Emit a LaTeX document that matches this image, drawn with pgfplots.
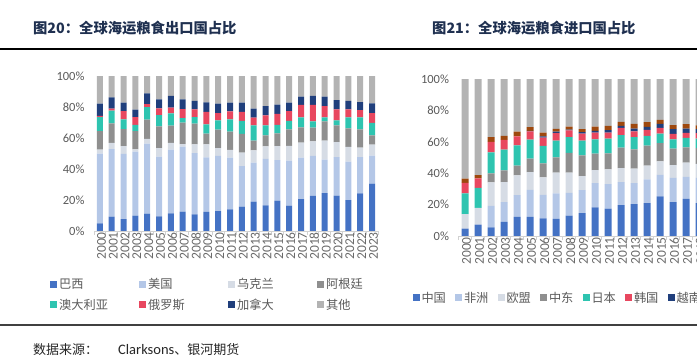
\documentclass[border=0pt]{standalone}
\usepackage{fontspec}
\usepackage{pgfplots}
\pgfplotsset{compat=1.18}
\usepackage{pgfplotstable}
\setmainfont{Carlito}
\newfontfamily\cjk{Noto Sans CJK SC}
\definecolor{cA}{HTML}{4472C4}
\definecolor{cB}{HTML}{B4C7E7}
\definecolor{cC}{HTML}{D6DCE5}
\definecolor{cD}{HTML}{8F8F8F}
\definecolor{cE}{HTML}{2EC4B0}
\definecolor{cF}{HTML}{E8475F}
\definecolor{cG}{HTML}{203F7C}
\definecolor{cH}{HTML}{9E480E}
\definecolor{cI}{HTML}{B3B3B3}
\definecolor{tgray}{HTML}{595959}
\definecolor{titlec}{HTML}{1F3050}

\pgfplotstableread{
year a b c d e f g o
2000 5.0 45.0 2.5 12.0 9.0 0.7 8.0 17.8
2001 9.2 43.7 3.9 12.7 8.1 1.4 7.2 13.8
2002 7.7 42.0 5.1 11.0 6.2 5.4 5.4 17.2
2003 9.9 41.3 1.5 11.8 3.9 5.1 4.8 21.7
2004 11.2 45.1 3.1 12.4 8.2 1.9 6.9 11.2
2005 9.5 38.5 5.5 14.0 7.3 4.3 5.9 15.0
2006 11.4 41.1 4.3 11.2 7.9 3.7 7.5 12.9
2007 12.5 41.9 1.7 13.8 3.0 5.8 6.3 15.0
2008 10.8 39.5 5.6 13.3 4.3 5.0 5.4 16.1
2009 12.3 35.2 8.4 6.9 6.0 8.0 6.2 17.0
2010 12.9 35.5 5.1 11.9 6.0 4.7 6.1 17.8
2011 14.0 33.3 5.0 11.8 7.9 5.2 5.6 17.2
2012 15.7 26.2 8.6 12.1 8.4 5.8 6.0 17.2
2013 18.9 25.2 7.9 6.3 9.9 4.9 5.8 21.1
2014 16.6 29.9 8.1 7.1 6.5 6.4 6.0 19.4
2015 19.6 26.2 9.0 8.2 5.4 7.1 6.0 18.5
2016 16.3 29.1 9.6 10.6 5.4 6.4 5.4 17.2
2017 20.6 26.7 9.7 9.9 6.4 8.0 5.4 13.3
2018 22.6 25.8 9.4 8.9 4.1 10.5 5.8 12.9
2019 24.5 21.5 12.3 12.5 2.5 7.3 6.1 13.3
2020 22.8 24.9 9.7 10.8 3.2 7.1 6.0 15.5
2021 20.0 24.7 9.5 12.0 7.1 5.2 5.4 16.1
2022 24.3 23.4 6.1 11.8 7.7 4.7 5.2 16.8
2023 30.5 18.1 7.1 6.0 8.0 6.4 6.3 17.6
}\lefttab

\pgfplotstableread{
year a b c d e f g h o
2000 4.7 0 9.2 0 13.2 6.8 0 2.6 63.5
2001 7.2 0 10.7 0 12.8 6.0 0 2.1 61.2
2002 5.5 13.7 14.9 5.8 13.4 6.6 0 3.0 37.1
2003 9.0 12.5 12.8 7.5 13.2 6.2 0 2.6 36.2
2004 12.2 13.8 12.6 6.2 13.0 5.7 0 3.0 33.5
2005 12.2 17.2 11.3 8.6 12.1 5.3 0.3 2.3 30.7
2006 11.3 14.9 11.1 9.0 11.1 5.3 0.8 2.4 34.1
2007 10.9 16.2 13.2 9.8 10.7 4.7 1.0 1.7 31.8
2008 13.0 14.5 12.8 12.6 10.0 4.3 0.6 1.9 30.3
2009 14.5 14.7 9.0 13.2 9.4 4.4 0.9 1.9 32.0
2010 18.3 15.4 8.3 10.5 9.1 4.3 1.1 2.7 30.3
2011 17.5 15.5 9.4 10.3 9.3 3.9 1.5 2.7 29.9
2012 19.6 14.7 9.0 13.0 7.9 4.7 1.2 2.6 27.3
2013 20.3 13.4 9.2 12.3 7.7 3.8 1.7 3.0 28.6
2014 20.9 15.1 8.8 12.8 6.2 3.8 1.9 3.0 27.5
2015 25.2 13.8 8.5 11.6 6.1 3.7 2.5 2.6 26.0
2016 21.5 15.6 8.1 10.5 5.9 3.4 3.0 2.6 29.4
2017 23.7 14.0 9.0 9.8 6.0 3.2 2.7 2.8 28.8
2018 21.0 16.0 9.0 10.0 6.0 3.5 2.5 2.5 29.5
}\righttab

\pgfplotsset{
  mybar/.style={
    ybar stacked, scale only axis, anchor=south west,
    ymin=0, ymax=100, ytick={0,20,...,100},
    /pgf/number format/assume math mode=true,
    /pgf/number format/1000 sep={},
    yticklabel={\pgfmathprintnumber{\tick}\%},
    axis line style={draw=none},
    xtick pos=bottom, ytick pos=left,
    tick align=outside,
    major tick length=0pt, minor tick length=4pt,
    minor x tick style={draw=black!18, line width=0.8pt},
    ytick style={draw=none},
    yticklabel style={font=\fontsize{12.5}{14}\selectfont, text=tgray, xshift=-6pt},
    xticklabel style={rotate=90, anchor=east, font=\fontsize{13.5}{15}\selectfont, text=tgray!90, yshift=-1.5pt, inner xsep=1pt},
    extra description/.code={\draw[black!18, line width=0.8pt] (rel axis cs:0,0) -- (rel axis cs:1,0);},
    legend image code/.code={\path[#1,draw=none] (0pt,-3.5pt) rectangle (7pt,3.5pt);},
    legend style={draw=none, fill=none, font=\cjk\fontsize{12.2}{13}\selectfont, text=tgray, column sep=0pt, row sep=5pt, inner sep=0pt},
    legend cell align=left,
  }
}

\begin{document}
\begin{tikzpicture}
\node[anchor=west, font=\cjk\fontsize{14.3}{16}\selectfont\bfseries, text=titlec, inner sep=0pt] at (33pt,329pt) {图20：全球海运粮食出口国占比};
\node[anchor=west, font=\cjk\fontsize{14.3}{16}\selectfont\bfseries, text=titlec, inner sep=0pt] at (432pt,329pt) {图21：全球海运粮食进口国占比};
\draw[black, line width=1.5pt] (0pt,308pt) -- (697pt,308pt);
\draw[black!75, line width=1.2pt] (0pt,32pt) -- (697pt,32pt);
\node[anchor=west, font=\cjk\fontsize{13}{15}\selectfont, text=black!85, inner sep=0pt] at (33pt,7.5pt) {数据来源：\hspace{20pt}{\fontspec{Carlito}\fontsize{14.5}{15}\selectfont Clarksons}、银河期货};

\begin{axis}[mybar, at={(94pt,126pt)}, width=284pt, height=155pt,
  xmin=1999.5, xmax=2023.5, xtick={2000,...,2023},
  minor xtick={1999.5,2000.5,...,2023.5}, bar width=6pt,
  legend columns=4,
  legend style={at={(rel axis cs:-0.155,-0.29)}, anchor=north west}]
\addplot[fill=cA, draw=none] table[x=year,y=a] {\lefttab};
\addplot[fill=cB, draw=none] table[x=year,y=b] {\lefttab};
\addplot[fill=cC, draw=none] table[x=year,y=c] {\lefttab};
\addplot[fill=cD, draw=none] table[x=year,y=d] {\lefttab};
\addplot[fill=cE, draw=none] table[x=year,y=e] {\lefttab};
\addplot[fill=cF, draw=none] table[x=year,y=f] {\lefttab};
\addplot[fill=cG, draw=none] table[x=year,y=g] {\lefttab};
\addplot[fill=cI, draw=none] table[x=year,y=o] {\lefttab};
\addlegendentry{\makebox[78pt][l]{巴西}}
\addlegendentry{\makebox[78pt][l]{美国}}
\addlegendentry{\makebox[78pt][l]{乌克兰}}
\addlegendentry{\makebox[78pt][l]{阿根廷}}
\addlegendentry{\makebox[78pt][l]{澳大利亚}}
\addlegendentry{\makebox[78pt][l]{俄罗斯}}
\addlegendentry{\makebox[78pt][l]{加拿大}}
\addlegendentry{\makebox[78pt][l]{其他}}
\end{axis}

\begin{axis}[mybar, at={(458.5pt,121pt)}, width=312pt, height=157pt,
  xmin=1999.5, xmax=2023.5, xtick={2000,...,2023},
  minor xtick={1999.5,2000.5,...,2023.5}, bar width=7pt,
  legend columns=9,
  legend style={at={(rel axis cs:-0.148,-0.342)}, anchor=north west}]
\addplot[fill=cA, draw=none] table[x=year,y=a] {\righttab};
\addplot[fill=cB, draw=none] table[x=year,y=b] {\righttab};
\addplot[fill=cC, draw=none] table[x=year,y=c] {\righttab};
\addplot[fill=cD, draw=none] table[x=year,y=d] {\righttab};
\addplot[fill=cE, draw=none] table[x=year,y=e] {\righttab};
\addplot[fill=cF, draw=none] table[x=year,y=f] {\righttab};
\addplot[fill=cG, draw=none] table[x=year,y=g] {\righttab};
\addplot[fill=cH, draw=none] table[x=year,y=h] {\righttab};
\addplot[fill=cI, draw=none] table[x=year,y=o] {\righttab};
\addlegendentry{\makebox[31.5pt][l]{中国}}
\addlegendentry{\makebox[31.5pt][l]{非洲}}
\addlegendentry{\makebox[31.5pt][l]{欧盟}}
\addlegendentry{\makebox[31.5pt][l]{中东}}
\addlegendentry{\makebox[31.5pt][l]{日本}}
\addlegendentry{\makebox[31.5pt][l]{韩国}}
\addlegendentry{\makebox[31.5pt][l]{越南}}
\addlegendentry{\makebox[31.5pt][l]{印尼}}
\addlegendentry{\makebox[31.5pt][l]{其他}}
\end{axis}
\pgfresetboundingbox
\useasboundingbox (0pt,0pt) rectangle (697pt,357pt);
\end{tikzpicture}
\end{document}
